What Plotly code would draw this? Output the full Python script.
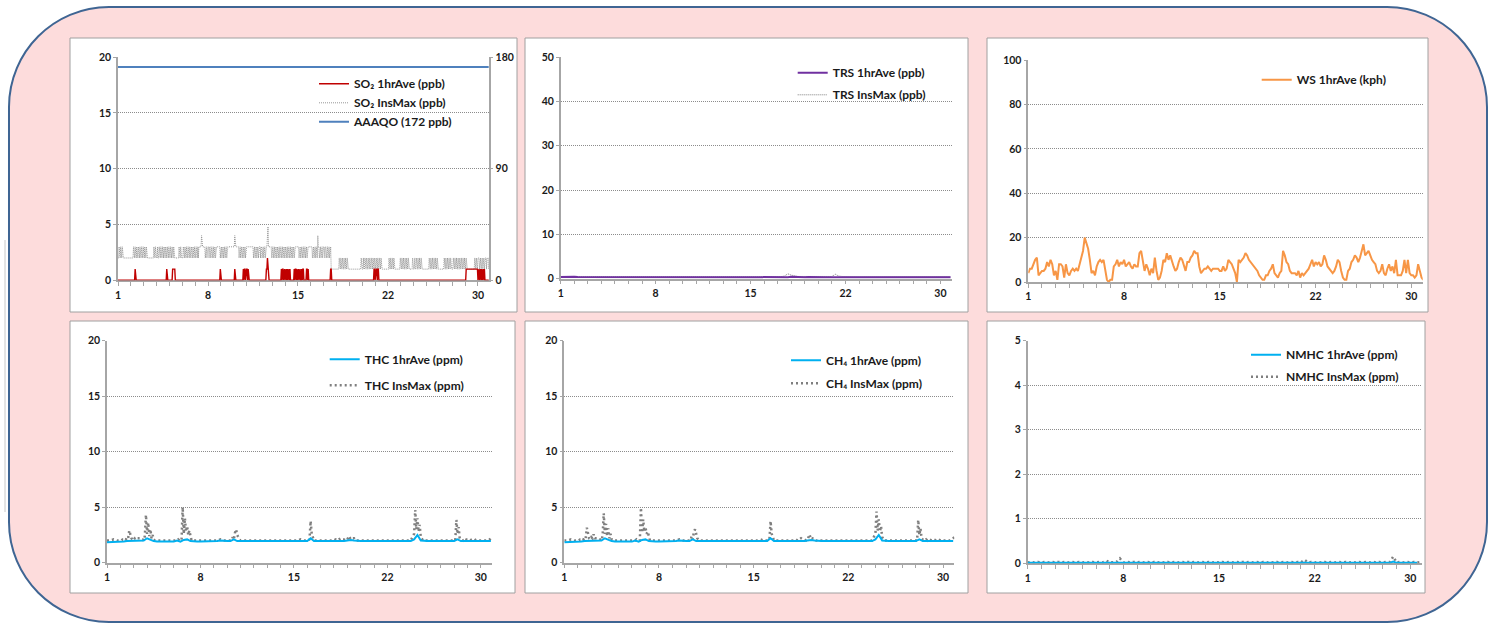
import plotly.graph_objects as go

W, H = 1497, 625
HOURS_PER_DAY = 24
X_MAX_HOUR = 692

def xf(px):
    return px / W

def yf(py):
    return 1 - py / H

# ---------------- DATA ----------------
tick_hours = [0, 168, 336, 504, 672]
tick_labels = ["1", "8", "15", "22", "30"]

# SO2 1-hour average (ppb), one string of hourly values per day
so2_ave_days = [
    "000000000000000000000000", "000000001000000000000000", "000000000000000000000000",
    "000000000000000000010000", "000000111110000000000000", "000000000000000000000000",
    "000000000000000000000000", "000000000000000000000001", "000000000000000000000000",
    "001000000000000000101101", "110100000000000000000000", "000000000000011211000000",
    "000000000000000001011011", "011010110100000001011010", "110110010110000011010000",
    "000000000000000000000000", "000000000000011000000000", "000000000000000000000000",
    "000000000000000000000000", "000000000000000000000011", "011101100000000000000000",
    "000000000000000000000000", "000000000000000000000000", "000000000000000000000000",
    "000000000000000000000000", "000000000000000000000000", "000000000000000000000000",
    "001111111111111111111111", "011011010110100000000000",
]
# SO2 instantaneous maximum (ppb), hourly values per day
so2_max_days = [
    "223223223222222222222222", "222223223223223223223223", "223223222222222222232232",
    "223223223223223223223223", "223223223222222222322322", "223223223223223223223223",
    "223223233333433333323323", "332332332332332333333332", "332332332332333333333333",
    "334333333323323323323323", "333333333333323323323323",
    "3 3 2 3 3 2 3 3 2 3 3 2 3 3 3 4 4.8 3 3 3 3 3 3 2",
    "332332332332332332332332", "332332332332332332333333", "332332332332332332333333",
    "333233233233243323323323", "332332332332331111111111", "111112112112112112112111",
    "111111111111111111111121", "112112112112112112112112", "112112112112111111111111",
    "112112112112111111111112", "112112112112112111111121", "112112112112112111111111",
    "111112112112112112112111", "111111111211211211211211", "112112112112112112112112",
    "112111111111111111211211", "222122122122122212221212",
]
aaaqo_limit_ppb = 172

# TRS (ppb), values spread evenly over each day
trs_ave_days = [
    "0.4 0.45 0.45 0.4", "0.45 0.4 0.4 0.35", "0.3 0.3 0.35 0.3", "0.3 0.25 0.3 0.3",
    "0.3 0.3 0.25 0.3", "0.3 0.3 0.35 0.3", "0.3 0.35 0.3 0.3", "0.3 0.35 0.3 0.3",
    "0.35 0.3 0.4 0.35", "0.3 0.4 0.35 0.3", "0.4 0.35 0.35 0.3", "0.35 0.3 0.35 0.35",
    "0.3 0.35 0.3 0.3", "0.3 0.25 0.3 0.3", "0.3 0.3 0.25 0.3", "0.3 0.3 0.3 0.3",
    "0.3 0.3 0.3 0.35", "0.45 0.4 0.35 0.35", "0.35 0.4 0.35 0.3", "0.35 0.35 0.3 0.35",
    "0.35 0.3 0.4 0.35", "0.3 0.3 0.3 0.3", "0.3 0.3 0.3 0.3", "0.3 0.3 0.3 0.3",
    "0.3 0.3 0.3 0.3", "0.3 0.3 0.3 0.3", "0.3 0.3 0.3 0.3", "0.35 0.35 0.3 0.3",
    "0.3 0.35 0.4 0.35",
]
trs_max_days = [
    "0.5 0.55 0.5 0.5", "0.5 0.5 0.5 0.45", "0.45 0.45 0.5 0.45", "0.45 0.4 0.45 0.45",
    "0.45 0.45 0.4 0.45", "0.45 0.45 0.5 0.45", "0.45 0.5 0.45 0.45", "0.45 0.5 0.45 0.45",
    "0.5 0.45 0.55 0.5", "0.45 0.55 0.5 0.45", "0.55 0.5 0.5 0.45", "0.5 0.45 0.5 0.5",
    "0.45 0.5 0.45 0.45", "0.45 0.4 0.45 0.45", "0.45 0.45 0.4 0.45", "0.45 0.45 0.45 0.45",
    "0.45 0.45 0.6 1.1", "0.8 0.6 0.5 0.5", "0.5 0.55 0.5 0.45", "0.5 0.5 0.45 0.5",
    "0.5 1.0 0.6 0.5", "0.45 0.45 0.45 0.45", "0.45 0.45 0.45 0.45", "0.45 0.45 0.45 0.45",
    "0.45 0.45 0.45 0.45", "0.45 0.45 0.45 0.45", "0.45 0.45 0.45 0.45", "0.5 0.5 0.45 0.45",
    "0.45 0.5 0.55 0.5",
]

# Wind speed 1-hour average (kph), one value every 3 hours
ws_step_hours = 3
ws_ave = [
    4, 6, 6, 8, 10, 11, 3, 4, 5, 5, 6, 9, 7, 10, 8, 3, 5, 1, 8, 8, 7,
    2, 8, 4, 3, 5, 6, 5, 6, 5, 8, 11, 14, 20, 17, 15, 10, 4, 5, 3, 7, 9, 10, 9, 10,
    5, 1, 0, 1, 1, 7, 8, 10, 7, 9, 8, 10, 7, 8, 9,
    7, 6, 8, 7, 7, 13, 14, 9, 5, 8, 6, 3, 6, 4, 11, 5, 1, 2, 5, 10, 9, 13, 10, 12,
    9, 7, 5, 6, 9, 11, 10, 7, 5, 9, 9, 11, 12, 14, 13,
    13, 7, 4, 5, 6, 6, 7, 6,
    5, 6, 6, 6, 6, 5, 5, 7, 5, 6, 10, 9, 8, 6, 4, 0, 10, 9, 10, 11, 13, 12, 10, 9,
    8, 7, 6, 5, 3, 2, 1, 1, 3, 3, 5, 6, 8, 4, 3, 2, 4, 5, 14, 12, 9, 8, 5, 4, 4, 4,
    3, 5, 2, 4, 3, 4, 5, 6, 8, 10, 7, 9, 8, 9, 7, 8, 12, 10, 7, 6, 5, 4, 5, 7, 10,
    9, 5, 2, 1, 1, 5, 6, 9, 10, 12, 11, 9, 11, 14, 17, 12, 13, 14, 12, 10, 9, 8, 5,
    4, 5, 8, 4, 3, 6, 8, 5, 7, 4, 10, 3, 3, 3, 5, 10, 4, 10, 4, 3, 3, 2, 3, 8, 5, 2, 1,
]

# THC (ppm)
thc_ave_days = [
    "1.85 1.85 1.85 1.9", "1.9 1.9 1.95 1.95", "1.95 2.0 1.95 2.0", "2.2 2.05 1.95 1.9",
    "1.9 1.9 1.9 1.9", "1.9 2.0 1.9 2.05", "2.1 1.95 1.9 1.9", "1.9 1.9 1.9 1.9",
    "1.9 1.95 2.0 1.95", "1.95 1.95 2.1 1.95", "1.95 1.95 1.95 1.95", "1.95 1.95 1.95 1.95",
    "1.95 1.95 1.95 1.95", "1.95 1.95 1.95 1.95", "1.95 1.95 2.0 1.95", "1.95 2.2 1.95 1.95",
    "1.95 1.95 1.95 1.95", "1.9 1.95 1.95 1.95", "2.0 2.05 2.0 1.95", "1.95 1.95 1.95 1.95",
    "1.95 1.95 1.95 1.95", "1.95 1.95 1.95 1.95", "1.95 1.95 1.95 1.95", "2.1 2.5 2.0 1.95",
    "1.95 1.95 1.95 1.95", "1.95 1.95 1.95 1.95", "1.95 2.1 1.95 1.95", "1.95 1.95 1.95 1.95",
    "1.95 1.95 1.9 1.95",
]
thc_max_days = [
    "2.0 2.0 2.1 2.0",
    "2.0 2.0 2.1 2.1 2.2 2.1 2.3 2.2 2.9 2.5 2.2 2.1",
    "2.3 2.2 2.3 2.2 2.2 2.2 2.2 2.1 2.1 2.0 2.4 4.3",
    "2.6 3.6 2.4 3.0 2.2 2.5 2.1 2.0 2.0 2.0 2.0 2.0",
    "2.0 2.0 2.0 2.0",
    "2.0 2.0 2.0 2.0 2.1 2.0 2.0 2.0 5.0 2.6 4.0 2.8",
    "3.3 2.5 2.9 2.3 2.0 2.0 2.0 2.0 2.0 2.0 2.0 2.0",
    "2.0 2.0 2.0 2.0",
    "2.0 2.0 2.1 2.0",
    "2.0 2.0 2.0 2.0 2.0 2.3 2.1 2.7 3.0 2.5 2.2 2.1",
    "2.0 2.0 2.0 2.0", "2.0 2.0 2.0 2.0", "2.0 2.0 2.0 2.0", "2.0 2.0 2.0 2.0",
    "2.0 2.0 2.1 2.0",
    "2.0 2.0 2.1 3.75 2.6 2.2 2.0 2.0 2.0 2.0 2.0 2.0",
    "2.0 2.0 2.0 2.0",
    "2.0 2.1 2.0 2.1 2.2 2.1 2.1 2.0",
    "2.1 2.4 2.1 2.2 2.2 2.0 2.0 2.0",
    "2.0 2.0 2.0 2.0", "2.0 2.0 2.0 2.0", "2.0 2.0 2.0 2.0", "2.0 2.0 2.0 2.0",
    "2.6 4.75 3.0 4.0 2.8 3.4 2.3 2.1 2.0 2.0 2.0 2.0",
    "2.0 2.0 2.0 2.0", "2.0 2.0 2.0 2.0",
    "2.0 2.0 3.85 2.6 3.2 2.2 2.1 2.1 2.0 2.1 2.0 2.1",
    "2.1 2.0 2.1 2.0 2.1 2.0",
    "2.0 2.0 2.0 2.0 2.1 2.3",
]

# CH4 (ppm)
ch4_ave_days = [
    "1.85 1.85 1.85 1.9", "1.9 1.9 1.95 1.95", "1.95 2.0 1.95 2.0", "2.2 2.05 1.95 1.9",
    "1.9 1.9 1.9 1.9", "1.9 2.0 1.9 2.05", "2.1 1.95 1.9 1.9", "1.9 1.9 1.9 1.9",
    "1.9 1.95 2.0 1.95", "1.95 1.95 2.1 1.95", "1.95 1.95 1.95 1.95", "1.95 1.95 1.95 1.95",
    "1.95 1.95 1.95 1.95", "1.95 1.95 1.95 1.95", "1.95 1.95 2.0 1.95", "1.95 2.2 1.95 1.95",
    "1.95 1.95 1.95 1.95", "1.9 1.95 1.95 1.95", "2.0 2.05 2.0 1.95", "1.95 1.95 1.95 1.95",
    "1.95 1.95 1.95 1.95", "1.95 1.95 1.95 1.95", "1.95 1.95 1.95 1.95", "2.1 2.5 2.0 1.95",
    "1.95 1.95 1.95 1.95", "1.95 1.95 1.95 1.95", "1.95 2.1 1.95 1.95", "1.95 1.95 1.95 1.95",
    "1.95 1.95 1.9 1.95",
]
ch4_max_days = [
    "2.0 2.0 2.1 2.0",
    "2.0 2.0 2.1 2.1 2.2 2.1 2.3 2.2 3.15 2.6 2.2 2.1",
    "2.3 2.2 2.55 2.2 2.2 2.2 2.2 2.1 2.1 2.0 2.4 4.45",
    "2.6 3.5 2.4 3.1 2.2 2.6 2.1 2.0 2.0 2.0 2.0 2.0",
    "2.0 2.0 2.0 2.0",
    "2.0 2.0 2.0 2.0 2.1 2.0 2.0 2.0 4.95 2.7 3.9 2.8",
    "3.2 2.6 2.8 2.3 2.0 2.0 2.0 2.0 2.0 2.0 2.0 2.0",
    "2.0 2.0 2.0 2.0",
    "2.0 2.0 2.1 2.0",
    "2.0 2.0 2.0 2.0 2.0 2.4 2.1 2.8 3.0 2.6 2.2 2.1",
    "2.0 2.0 2.0 2.0", "2.0 2.0 2.0 2.0", "2.0 2.0 2.0 2.0", "2.0 2.0 2.0 2.0",
    "2.0 2.0 2.1 2.0",
    "2.0 2.0 2.1 3.75 2.6 2.2 2.0 2.0 2.0 2.0 2.0 2.0",
    "2.0 2.0 2.0 2.0",
    "2.0 2.1 2.0 2.1 2.2 2.1 2.1 2.0",
    "2.1 2.55 2.1 2.2 2.2 2.0 2.0 2.0",
    "2.0 2.0 2.0 2.0", "2.0 2.0 2.0 2.0", "2.0 2.0 2.0 2.0", "2.0 2.0 2.0 2.0",
    "2.6 4.6 2.9 3.9 2.8 3.3 2.3 2.1 2.0 2.0 2.0 2.0",
    "2.0 2.0 2.0 2.0", "2.0 2.0 2.0 2.0",
    "2.0 2.0 3.85 2.5 3.1 2.2 2.1 2.1 2.0 2.1 2.0 2.1",
    "2.1 2.0 2.1 2.0 2.1 2.0",
    "2.0 2.0 2.0 2.0 2.1 2.3",
]

# NMHC (ppm)
nmhc_ave_days = [
    "0.01 0.01", "0.01 0.01", "0.01 0.01", "0.01 0.01", "0.01 0.01", "0.01 0.01",
    "0.01 0.02", "0.01 0.01", "0.01 0.01", "0.01 0.01", "0.01 0.01", "0.01 0.01",
    "0.01 0.01", "0.01 0.01", "0.01 0.01", "0.01 0.01", "0.01 0.01", "0.01 0.01",
    "0.01 0.01", "0.01 0.01", "0.01 0.02", "0.01 0.01", "0.01 0.01", "0.01 0.01",
    "0.01 0.01", "0.01 0.01", "0.01 0.01 0.01 0.04", "0.01 0.01", "0.01 0.01",
]
nmhc_max_days = [
    "0.02 0.03 0.02 0.03", "0.02 0.03 0.02 0.03", "0.02 0.03 0.02 0.03", "0.02 0.03 0.02 0.03",
    "0.02 0.03 0.02 0.03", "0.02 0.03 0.02 0.06", "0.02 0.03 0.03 0.11", "0.02 0.03 0.02 0.03",
    "0.02 0.03 0.02 0.03", "0.02 0.03 0.02 0.03", "0.02 0.03 0.02 0.03", "0.02 0.03 0.02 0.03",
    "0.02 0.03 0.02 0.03", "0.02 0.03 0.02 0.03", "0.02 0.03 0.02 0.03", "0.02 0.03 0.02 0.03",
    "0.02 0.03 0.02 0.03", "0.02 0.03 0.02 0.03", "0.02 0.03 0.02 0.03", "0.02 0.03 0.02 0.03",
    "0.02 0.08 0.02 0.03", "0.02 0.03 0.02 0.03", "0.02 0.03 0.02 0.03", "0.02 0.03 0.02 0.03",
    "0.02 0.03 0.02 0.03", "0.02 0.03 0.02 0.03", "0.02 0.03 0.03 0.15", "0.02 0.03 0.02 0.03",
    "0.02 0.03 0.02 0.03",
]


def expand(days):
    """Place each day's listed values evenly over that day's hours."""
    xs, ys = [], []
    for d, s in enumerate(days):
        toks = s.split() if (" " in s or "." in s) else list(s)
        n = len(toks)
        for i, t in enumerate(toks):
            xs.append(d * HOURS_PER_DAY + i * HOURS_PER_DAY / n)
            ys.append(float(t))
    return xs, ys


so2_ave_x, so2_ave_y = expand(so2_ave_days)
so2_max_x, so2_max_y = expand(so2_max_days)
trs_ave_x, trs_ave_y = expand(trs_ave_days)
trs_max_x, trs_max_y = expand(trs_max_days)
thc_ave_x, thc_ave_y = expand(thc_ave_days)
thc_max_x, thc_max_y = expand(thc_max_days)
ch4_ave_x, ch4_ave_y = expand(ch4_ave_days)
ch4_max_x, ch4_max_y = expand(ch4_max_days)
nmhc_ave_x, nmhc_ave_y = expand(nmhc_ave_days)
nmhc_max_x, nmhc_max_y = expand(nmhc_max_days)
ws_x = [i * ws_step_hours for i in range(len(ws_ave))]

# ---------------- STYLE ----------------
FONT = "Lato"
AXIS_GRAY = "#A6A6A6"
GRID_GRAY = "#8C8C8C"
tickfont = dict(family=FONT, size=10.5, color="#1A1A1A", weight="bold")
THIN_DOT = "1px,1px"
BIG_DOT = "2px,3px"

fig = go.Figure()


def add(x, y, xa, ya, name, color, width, dash, legend, rank):
    fig.add_trace(go.Scatter(
        x=x, y=y, xaxis=xa, yaxis=ya, mode="lines", name=name,
        line=dict(color=color, width=width, dash=dash),
        legend=legend, legendgroup=name, legendrank=rank,
        hoverinfo="skip"))


# Panel 1 (SO2)
add(so2_max_x, so2_max_y, "x", "y", "SO₂ InsMax (ppb)", "#8A8A8A", 0.9, THIN_DOT, "legend", 2)
add(so2_ave_x, so2_ave_y, "x", "y", "SO₂ 1hrAve (ppb)", "#C00000", 1.4, "solid", "legend", 1)
add([so2_ave_x[0], so2_ave_x[-1]], [aaaqo_limit_ppb, aaaqo_limit_ppb], "x", "y7",
    "AAAQO (172 ppb)", "#4F81BD", 2, "solid", "legend", 3)
# Panel 2 (TRS)
add(trs_max_x, trs_max_y, "x2", "y2", "TRS InsMax (ppb)", "#7F7F7F", 1, THIN_DOT, "legend2", 2)
add(trs_ave_x, trs_ave_y, "x2", "y2", "TRS 1hrAve (ppb)", "#7030A0", 2, "solid", "legend2", 1)
# Panel 3 (WS)
add(ws_x, ws_ave, "x3", "y3", "WS 1hrAve (kph)", "#F79646", 2, "solid", "legend3", 1)
# Panel 4 (THC)
add(thc_max_x, thc_max_y, "x4", "y4", "THC InsMax (ppm)", "#7F7F7F", 2.5, BIG_DOT, "legend4", 2)
add(thc_ave_x, thc_ave_y, "x4", "y4", "THC 1hrAve (ppm)", "#00B0F0", 2, "solid", "legend4", 1)
# Panel 5 (CH4)
add(ch4_max_x, ch4_max_y, "x5", "y5", "CH₄ InsMax (ppm)", "#7F7F7F", 2.5, BIG_DOT, "legend5", 2)
add(ch4_ave_x, ch4_ave_y, "x5", "y5", "CH₄ 1hrAve (ppm)", "#00B0F0", 2, "solid", "legend5", 1)
# Panel 6 (NMHC)
add(nmhc_max_x, nmhc_max_y, "x6", "y6", "NMHC InsMax (ppm)", "#7F7F7F", 2.5, BIG_DOT, "legend6", 2)
add(nmhc_ave_x, nmhc_ave_y, "x6", "y6", "NMHC 1hrAve (ppm)", "#00B0F0", 2, "solid", "legend6", 1)

# plot-area pixel boxes: (left, right, top, bottom)
areas = [
    (118, 488.7, 57, 280.3, [0, 20], 5),
    (560.7, 951.7, 57, 278.7, [0, 50], 10),
    (1028.3, 1422.7, 60.3, 282, [0, 100], 20),
    (107, 492, 340.7, 562.7, [0, 20], 5),
    (564.3, 954.3, 340.7, 562.7, [0, 20], 5),
    (1027.7, 1421.7, 340.7, 563.3, [0, 5], 1),
]

layout = {}
for i, (l, r, t, b, rng, dt) in enumerate(areas, start=1):
    sfx = "" if i == 1 else str(i)
    layout["xaxis" + sfx] = dict(
        domain=[xf(l), xf(r)], anchor="y" + sfx, range=[0, X_MAX_HOUR],
        tickmode="array", tickvals=tick_hours, ticktext=tick_labels,
        ticks="outside", ticklen=4, tickwidth=1, tickcolor=AXIS_GRAY,
        showline=True, linecolor=AXIS_GRAY, linewidth=1.5,
        showgrid=False, zeroline=False, tickfont=tickfont, layer="below traces",
        minor=dict(tickmode="linear", tick0=0, dtick=HOURS_PER_DAY, ticks="outside",
                   ticklen=4, tickcolor=AXIS_GRAY, tickwidth=1, showgrid=False),
        fixedrange=True, automargin=False)
    layout["yaxis" + sfx] = dict(
        domain=[yf(b), yf(t)], anchor="x" + sfx, range=rng, tick0=0, dtick=dt,
        ticks="outside", ticklen=3, tickcolor=AXIS_GRAY,
        showline=True, linecolor=AXIS_GRAY, linewidth=1.5,
        showgrid=True, gridcolor=GRID_GRAY, gridwidth=1, griddash="1px,1px",
        zeroline=False, tickfont=tickfont, layer="below traces", fixedrange=True,
        automargin=False)

layout["yaxis7"] = dict(
    overlaying="y", side="right", anchor="x", range=[0, 180],
    tickmode="array", tickvals=[0, 90, 180], ticks="outside", ticklen=3,
    tickcolor=AXIS_GRAY, showline=True, linecolor=AXIS_GRAY, linewidth=1.5,
    showgrid=False, zeroline=False, tickfont=tickfont, fixedrange=True, automargin=False)

legfont = dict(family=FONT, size=12, color="#1A1A1A", weight="bold")
leg_pos = {  # left px, top px, gap
    "legend": (314, 69.3, 0),
    "legend2": (792.7, 58.3, 3),
    "legend3": (1256.7, 65.3, 0),
    "legend4": (324.7, 344.7, 7),
    "legend5": (786, 345.7, 4),
    "legend6": (1246, 340.3, 3),
}
for key, (lx, ty, gap) in leg_pos.items():
    layout[key] = dict(x=xf(lx), y=yf(ty), xanchor="left", yanchor="top",
                       bgcolor="rgba(0,0,0,0)", font=legfont, itemwidth=30,
                       traceorder="grouped", tracegroupgap=gap)


def P(px, py):
    return f"{xf(px):.6f},{yf(py):.6f}"


def rounded(x0, y0, x1, y1, r):
    k = 0.5523 * r
    return (f"M {P(x0 + r, y0)} L {P(x1 - r, y0)} "
            f"C {P(x1 - r + k, y0)} {P(x1, y0 + r - k)} {P(x1, y0 + r)} "
            f"L {P(x1, y1 - r)} "
            f"C {P(x1, y1 - r + k)} {P(x1 - r + k, y1)} {P(x1 - r, y1)} "
            f"L {P(x0 + r, y1)} "
            f"C {P(x0 + r - k, y1)} {P(x0, y1 - r + k)} {P(x0, y1 - r)} "
            f"L {P(x0, y0 + r)} "
            f"C {P(x0, y0 + r - k)} {P(x0 + r - k, y0)} {P(x0 + r, y0)} Z")


shapes = [
    dict(type="line", xref="paper", yref="paper", x0=xf(5), x1=xf(5), y0=yf(240), y1=yf(512),
         line=dict(color="#C8C8C8", width=1), layer="below"),
    dict(type="path", xref="paper", yref="paper", path=rounded(9, 7, 1487, 622, 100),
         fillcolor="#FDDCDC", line=dict(color="#3F6593", width=2), layer="below"),
]
panels = [(70, 38, 517, 312), (525, 38, 968, 312), (987, 38, 1428, 312),
          (70, 321, 515, 593), (525, 321, 968, 593), (987, 321, 1425, 593)]
for (a, b, c, d) in panels:
    shapes.append(dict(type="rect", xref="paper", yref="paper",
                       x0=xf(a), x1=xf(c), y0=yf(d), y1=yf(b),
                       fillcolor="white", line=dict(color="#A0A0A0", width=1), layer="below"))

fig.update_layout(
    width=W, height=H, autosize=False,
    margin=dict(l=0, r=0, t=0, b=0, pad=0),
    paper_bgcolor="white", plot_bgcolor="white",
    showlegend=True, shapes=shapes, **layout)

fig.write_html(
    "out.html",
    config={"displayModeBar": False, "staticPlot": False},
    post_script="document.body.style.margin='0';document.body.style.overflow='hidden';")
